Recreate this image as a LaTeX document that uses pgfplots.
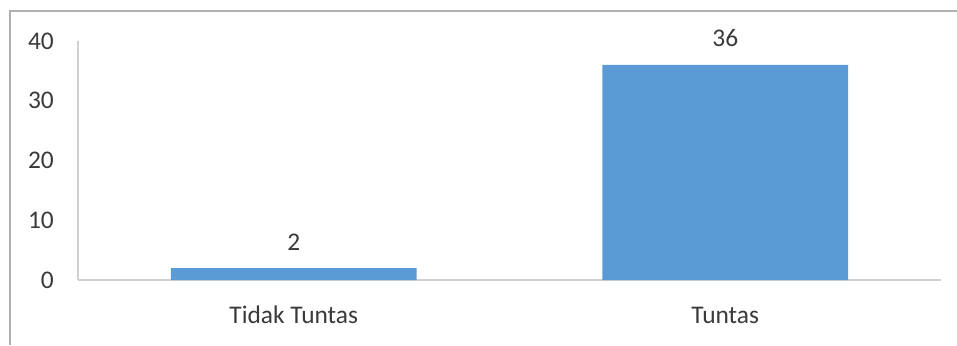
\documentclass[border=0pt]{standalone}
\usepackage{fontspec}
\setmainfont{Carlito}
\usepackage{pgfplots}
\pgfplotsset{compat=1.18}
\definecolor{barblue}{HTML}{5B9BD5}
\definecolor{txt}{HTML}{3A3A3A}
\definecolor{axl}{HTML}{D0D0D0}
\definecolor{framec}{HTML}{B0B0B0}
\begin{document}
\begin{tikzpicture}[x=1bp,y=1bp]
\useasboundingbox (0,0) rectangle (957,345);
\draw[framec, line width=1.5bp] (10,0) -- (10,334) -- (957,334);
\begin{axis}[
  anchor=south west, at={(78bp,65bp)},
  scale only axis, width=863bp, height=239bp,
  xmin=-0.5, xmax=1.5, ymin=0, ymax=40,
  ytick={0,10,20,30,40},
  xtick={0,1}, xticklabels={Tidak Tuntas, Tuntas},
  axis x line=bottom, axis y line=left,
  axis line style={axl, line width=1.5bp, -},
  major tick length=0pt, tick style={draw=none},
  /pgf/number format/assume math mode=true,
  ticklabel style={font=\fontsize{25.5}{30}\selectfont, text=txt, inner sep=0pt},
  yticklabel style={anchor=base east, xshift=-24bp, yshift=-8bp},
  xticklabel style={anchor=base, yshift=-43bp},
  ybar, bar width=0.57,
  nodes near coords,
  nodes near coords style={anchor=base, yshift=18bp, inner sep=0pt, font=\fontsize{25.5}{30}\selectfont, text=txt},
]
\addplot[fill=barblue, draw=none] coordinates {(0,2) (1,36)};
\end{axis}
\end{tikzpicture}
\end{document}
